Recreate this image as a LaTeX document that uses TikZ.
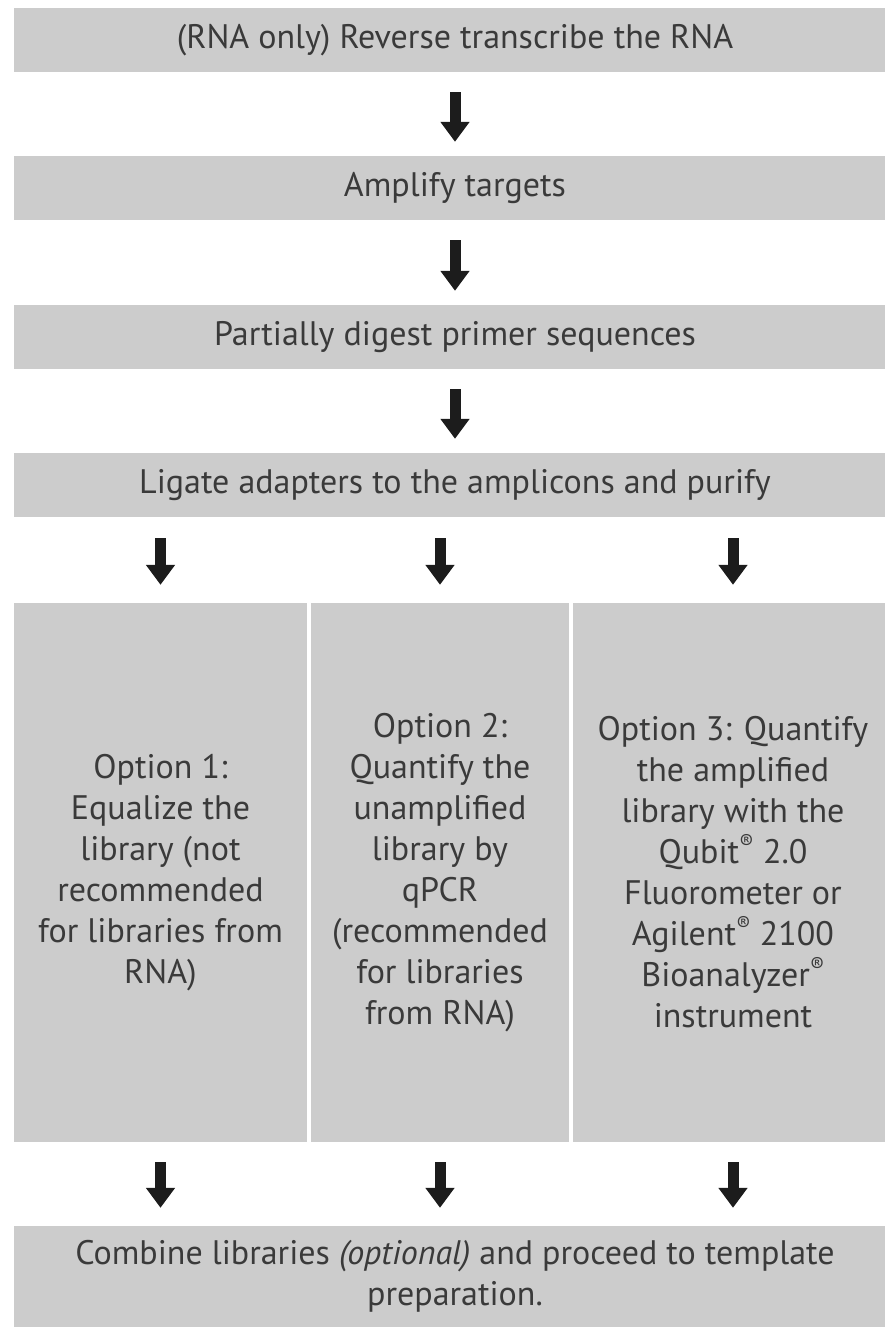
\documentclass[tikz,border=0pt]{standalone}
\usepackage{fontspec}
\setmainfont{PT Sans}
\usetikzlibrary{arrows.meta}
\definecolor{boxgray}{HTML}{CCCCCC}
\definecolor{textgray}{HTML}{3A3A3A}
\definecolor{arrowblack}{HTML}{1C1C1C}
\newcommand{\regmark}{\raisebox{0.42em}{\fontsize{21}{21}\selectfont\textregistered}}

\begin{document}
\begin{tikzpicture}[
  x=1pt, y=-1pt,
  stepbox/.style={
    fill=boxgray, inner sep=0pt, text=textgray,
    minimum width=882pt, minimum height=#1,
    font=\fontsize{34}{41}\selectfont, align=center,
    },
  stepbox/.default=64pt,
  optbox/.style={
    fill=boxgray, inner sep=0pt, text=textgray,
    minimum width=#1, minimum height=539pt,
    font=\fontsize{34}{41}\selectfont, align=center,
    },
  fatarrow/.style 2 args={
    draw=arrowblack, line width=11pt,
    -{Triangle[width=28pt,length=20pt]},
    shorten <=#1, shorten >=#2,
    },
  ]
  \useasboundingbox (0,0) rectangle (884,1327);
  \fill[white] (0,0) rectangle (884,1327);

  % main steps
  \node[stepbox] (rt)  at (455,40)  {(RNA only) Reverse transcribe the RNA};
  \node[stepbox] (amp) at (455,188) {Amplify targets};
  \node[stepbox] (dig) at (455,337) {Partially digest primer sequences};
  \node[stepbox] (lig) at (455,485) {Ligate adapters to the amplicons and purify};

  \draw[fatarrow={20pt}{14pt}] (rt.south) -- (amp.north);
  \draw[fatarrow={20pt}{14pt}] (amp.south) -- (dig.north);
  \draw[fatarrow={20pt}{14pt}] (dig.south) -- (lig.north);

  % the three options
  \node[optbox=293pt] (opt1) at (160.5,872.5)
    {Option 1:\\Equalize the\\library (not\\recommended\\for libraries from\\RNA)};
  \node[optbox=258pt] (opt2) at (440,872.5)
    {Option 2:\\Quantify the\\unamplified\\library by\\qPCR\\(recommended\\for libraries\\from RNA)};
  \node[optbox=320pt] (opt3) at (733,872.5)
    {Option 3: Quantify\\the amplified\\library with the\\Qubit\regmark{} 2.0\\Fluorometer or\\Agilent\regmark{} 2100\\Bioanalyzer\regmark\\instrument};

  \node[stepbox=101pt] (comb) at (455,1276.5)
    {Combine libraries \textit{(optional)} and proceed to template\\preparation.};

  \foreach \opt in {opt1,opt2,opt3}
  {
    \draw[fatarrow={21pt}{18pt}] (\opt.north |- lig.south) -- (\opt.north);
    \draw[fatarrow={20pt}{18pt}] (\opt.south) -- (\opt.south |- comb.north);
  }
\end{tikzpicture}
\end{document}
